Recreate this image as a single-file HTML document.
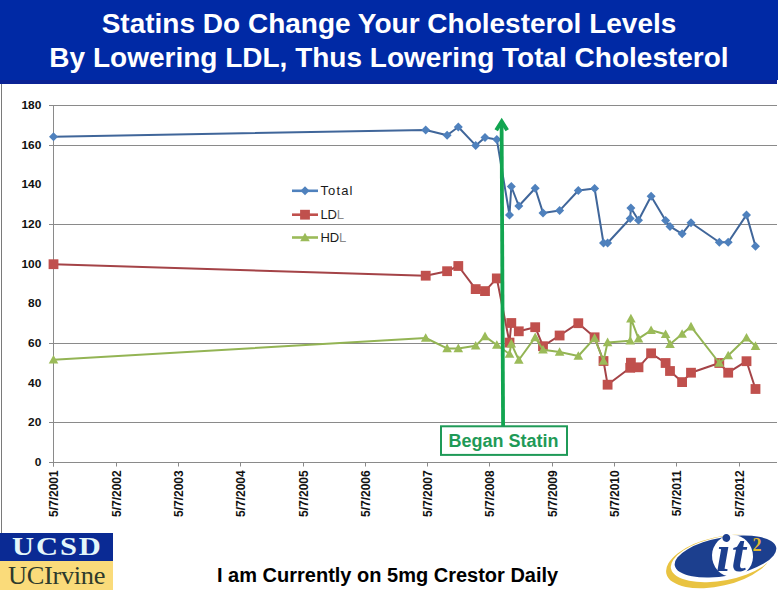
<!DOCTYPE html>
<html><head><meta charset="utf-8"><style>
*{margin:0;padding:0;box-sizing:border-box}
html,body{width:778px;height:590px;overflow:hidden;background:#fff}
body{position:relative;font-family:"Liberation Sans",sans-serif}
#hdr{position:absolute;left:0;top:0;width:778px;height:84px;background:linear-gradient(#0029A5 0,#0029A5 80px,#0A2294 80px,#0A2294 84px)}
#notch{position:absolute;left:777px;top:80px;width:1px;height:5px;background:#fff}
#hdr div{position:absolute;left:0;width:778px;text-align:center;color:#fff;font-weight:bold;font-size:28px;white-space:nowrap}
#frame{position:absolute;left:1px;top:84px;width:1px;height:449px;background:#7a7a7a}
svg{position:absolute;left:0;top:0}
.yl{font:bold 10px "Liberation Sans",sans-serif;fill:#111}
.xl{font:bold 12px "Liberation Sans",sans-serif;fill:#111}
.lg{font:13px "Liberation Sans",sans-serif;fill:#1a1a1a}
.bs{font:bold 18px "Liberation Sans",sans-serif;fill:#1F9A57}
#ucsd{position:absolute;left:0;top:533px;width:113px;height:28px;background:#0A2A94;overflow:hidden}
#ucsd span{position:absolute;left:12px;top:-1px;font:bold 25px "Liberation Serif",serif;color:#e4f6fa;transform:scaleX(1.22);transform-origin:0 0;letter-spacing:1.6px;line-height:30px}
#uci{position:absolute;left:0;top:561px;width:113px;height:29px;background:#FADB7A;overflow:hidden}
#uci span{position:absolute;left:7.5px;top:0px;font:25px "Liberation Serif",serif;color:#2E3A2C;letter-spacing:-0.3px;transform:scaleX(1.055);transform-origin:0 0;line-height:30px}
#bot{position:absolute;left:217px;top:564px;font:bold 20px "Liberation Sans",sans-serif;color:#000;white-space:nowrap}
</style></head><body>
<div id="hdr"><div style="top:7.5px">Statins Do Change Your Cholesterol Levels</div><div style="top:41.5px">By Lowering LDL, Thus Lowering Total Cholesterol</div></div>
<div id="frame"></div><div id="notch"></div>
<svg width="778" height="590" viewBox="0 0 778 590">
<line x1="49" y1="105.5" x2="777" y2="105.5" stroke="#8a8a8a" stroke-width="1"/>
<line x1="49" y1="145.5" x2="777" y2="145.5" stroke="#8a8a8a" stroke-width="1"/>
<line x1="49" y1="224.5" x2="777" y2="224.5" stroke="#8a8a8a" stroke-width="1"/>
<line x1="49" y1="343.5" x2="777" y2="343.5" stroke="#8a8a8a" stroke-width="1"/>
<line x1="49" y1="422.5" x2="777" y2="422.5" stroke="#8a8a8a" stroke-width="1"/>
<line x1="53.5" y1="105" x2="53.5" y2="466.5" stroke="#8a8a8a" stroke-width="1"/>
<line x1="49" y1="462.5" x2="777" y2="462.5" stroke="#8a8a8a" stroke-width="1"/>
<line x1="53.5" y1="462.5" x2="53.5" y2="466.5" stroke="#8a8a8a" stroke-width="1"/>
<line x1="116.5" y1="462.5" x2="116.5" y2="466.5" stroke="#8a8a8a" stroke-width="1"/>
<line x1="178.5" y1="462.5" x2="178.5" y2="466.5" stroke="#8a8a8a" stroke-width="1"/>
<line x1="240.5" y1="462.5" x2="240.5" y2="466.5" stroke="#8a8a8a" stroke-width="1"/>
<line x1="303.5" y1="462.5" x2="303.5" y2="466.5" stroke="#8a8a8a" stroke-width="1"/>
<line x1="365.5" y1="462.5" x2="365.5" y2="466.5" stroke="#8a8a8a" stroke-width="1"/>
<line x1="427.5" y1="462.5" x2="427.5" y2="466.5" stroke="#8a8a8a" stroke-width="1"/>
<line x1="489.5" y1="462.5" x2="489.5" y2="466.5" stroke="#8a8a8a" stroke-width="1"/>
<line x1="552.5" y1="462.5" x2="552.5" y2="466.5" stroke="#8a8a8a" stroke-width="1"/>
<line x1="614.5" y1="462.5" x2="614.5" y2="466.5" stroke="#8a8a8a" stroke-width="1"/>
<line x1="676.5" y1="462.5" x2="676.5" y2="466.5" stroke="#8a8a8a" stroke-width="1"/>
<line x1="739.5" y1="462.5" x2="739.5" y2="466.5" stroke="#8a8a8a" stroke-width="1"/>
<text transform="translate(41.3,466.0) scale(1.19,1)" text-anchor="end" class="yl">0</text>
<text transform="translate(41.3,426.3) scale(1.19,1)" text-anchor="end" class="yl">20</text>
<text transform="translate(41.3,386.7) scale(1.19,1)" text-anchor="end" class="yl">40</text>
<text transform="translate(41.3,347.0) scale(1.19,1)" text-anchor="end" class="yl">60</text>
<text transform="translate(41.3,307.3) scale(1.19,1)" text-anchor="end" class="yl">80</text>
<text transform="translate(41.3,267.7) scale(1.19,1)" text-anchor="end" class="yl">100</text>
<text transform="translate(41.3,228.0) scale(1.19,1)" text-anchor="end" class="yl">120</text>
<text transform="translate(41.3,188.3) scale(1.19,1)" text-anchor="end" class="yl">140</text>
<text transform="translate(41.3,148.7) scale(1.19,1)" text-anchor="end" class="yl">160</text>
<text transform="translate(41.3,109.0) scale(1.19,1)" text-anchor="end" class="yl">180</text>
<text transform="translate(58.3,470.3) rotate(-90)" text-anchor="end" class="xl">5/7/2001</text>
<text transform="translate(120.6,470.3) rotate(-90)" text-anchor="end" class="xl">5/7/2002</text>
<text transform="translate(182.9,470.3) rotate(-90)" text-anchor="end" class="xl">5/7/2003</text>
<text transform="translate(245.2,470.3) rotate(-90)" text-anchor="end" class="xl">5/7/2004</text>
<text transform="translate(307.5,470.3) rotate(-90)" text-anchor="end" class="xl">5/7/2005</text>
<text transform="translate(369.8,470.3) rotate(-90)" text-anchor="end" class="xl">5/7/2006</text>
<text transform="translate(432.1,470.3) rotate(-90)" text-anchor="end" class="xl">5/7/2007</text>
<text transform="translate(494.4,470.3) rotate(-90)" text-anchor="end" class="xl">5/7/2008</text>
<text transform="translate(556.7,470.3) rotate(-90)" text-anchor="end" class="xl">5/7/2009</text>
<text transform="translate(619.0,470.3) rotate(-90)" text-anchor="end" class="xl">5/7/2010</text>
<text transform="translate(681.3,470.3) rotate(-90)" text-anchor="end" class="xl">5/7/2011</text>
<text transform="translate(743.6,470.3) rotate(-90)" text-anchor="end" class="xl">5/7/2012</text>
<polyline points="53.5,136.7 425.7,130.0 447.1,135.3 458.3,127.0 475.7,145.4 485.0,137.4 496.8,139.4 509.5,215.0 511.3,186.5 518.8,206.0 535.2,188.2 543.0,212.9 559.6,210.6 578.3,190.5 594.6,188.5 603.5,243.0 607.6,243.0 630.2,218.5 630.9,208.0 638.5,220.2 651.1,196.3 665.6,220.5 670.0,226.4 682.1,233.8 691.0,222.7 719.3,242.3 728.2,242.3 746.5,214.9 755.5,246.2" fill="none" stroke="#40669A" stroke-width="2" stroke-linejoin="round"/>
<g fill="#4F81BD"><path d="M53.5 132.2L58.0 136.7L53.5 141.2L49.0 136.7Z"/><path d="M425.7 125.5L430.2 130.0L425.7 134.5L421.2 130.0Z"/><path d="M447.1 130.8L451.6 135.3L447.1 139.8L442.6 135.3Z"/><path d="M458.3 122.5L462.8 127.0L458.3 131.5L453.8 127.0Z"/><path d="M475.7 140.9L480.2 145.4L475.7 149.9L471.2 145.4Z"/><path d="M485.0 132.9L489.5 137.4L485.0 141.9L480.5 137.4Z"/><path d="M496.8 134.9L501.3 139.4L496.8 143.9L492.3 139.4Z"/><path d="M509.5 210.5L514.0 215.0L509.5 219.5L505.0 215.0Z"/><path d="M511.3 182.0L515.8 186.5L511.3 191.0L506.8 186.5Z"/><path d="M518.8 201.5L523.3 206.0L518.8 210.5L514.3 206.0Z"/><path d="M535.2 183.7L539.7 188.2L535.2 192.7L530.7 188.2Z"/><path d="M543.0 208.4L547.5 212.9L543.0 217.4L538.5 212.9Z"/><path d="M559.6 206.1L564.1 210.6L559.6 215.1L555.1 210.6Z"/><path d="M578.3 186.0L582.8 190.5L578.3 195.0L573.8 190.5Z"/><path d="M594.6 184.0L599.1 188.5L594.6 193.0L590.1 188.5Z"/><path d="M603.5 238.5L608.0 243.0L603.5 247.5L599.0 243.0Z"/><path d="M607.6 238.5L612.1 243.0L607.6 247.5L603.1 243.0Z"/><path d="M630.2 214.0L634.7 218.5L630.2 223.0L625.7 218.5Z"/><path d="M630.9 203.5L635.4 208.0L630.9 212.5L626.4 208.0Z"/><path d="M638.5 215.7L643.0 220.2L638.5 224.7L634.0 220.2Z"/><path d="M651.1 191.8L655.6 196.3L651.1 200.8L646.6 196.3Z"/><path d="M665.6 216.0L670.1 220.5L665.6 225.0L661.1 220.5Z"/><path d="M670.0 221.9L674.5 226.4L670.0 230.9L665.5 226.4Z"/><path d="M682.1 229.3L686.6 233.8L682.1 238.3L677.6 233.8Z"/><path d="M691.0 218.2L695.5 222.7L691.0 227.2L686.5 222.7Z"/><path d="M719.3 237.8L723.8 242.3L719.3 246.8L714.8 242.3Z"/><path d="M728.2 237.8L732.7 242.3L728.2 246.8L723.7 242.3Z"/><path d="M746.5 210.4L751.0 214.9L746.5 219.4L742.0 214.9Z"/><path d="M755.5 241.7L760.0 246.2L755.5 250.7L751.0 246.2Z"/></g>
<polyline points="53.5,264.2 425.7,275.7 447.1,271.2 458.3,266.0 475.7,289.1 485.0,291.1 496.8,278.4 509.5,342.6 511.3,323.0 518.8,331.3 535.2,327.2 543.0,346.2 559.6,335.5 578.3,323.2 594.6,337.3 603.5,361.0 607.6,384.7 630.2,367.8 630.9,362.7 638.5,367.3 651.1,353.3 665.6,363.0 670.0,371.0 682.1,382.1 691.0,372.7 719.3,363.0 728.2,372.7 746.5,361.2 755.5,389.0" fill="none" stroke="#A44347" stroke-width="2" stroke-linejoin="round"/>
<g fill="#C0504D"><rect x="48.6" y="259.3" width="9.8" height="9.8"/><rect x="420.8" y="270.8" width="9.8" height="9.8"/><rect x="442.2" y="266.3" width="9.8" height="9.8"/><rect x="453.4" y="261.1" width="9.8" height="9.8"/><rect x="470.8" y="284.2" width="9.8" height="9.8"/><rect x="480.1" y="286.2" width="9.8" height="9.8"/><rect x="491.9" y="273.5" width="9.8" height="9.8"/><rect x="504.6" y="337.7" width="9.8" height="9.8"/><rect x="506.4" y="318.1" width="9.8" height="9.8"/><rect x="513.9" y="326.4" width="9.8" height="9.8"/><rect x="530.3" y="322.3" width="9.8" height="9.8"/><rect x="538.1" y="341.3" width="9.8" height="9.8"/><rect x="554.7" y="330.6" width="9.8" height="9.8"/><rect x="573.4" y="318.3" width="9.8" height="9.8"/><rect x="589.7" y="332.4" width="9.8" height="9.8"/><rect x="598.6" y="356.1" width="9.8" height="9.8"/><rect x="602.7" y="379.8" width="9.8" height="9.8"/><rect x="625.3" y="362.9" width="9.8" height="9.8"/><rect x="626.0" y="357.8" width="9.8" height="9.8"/><rect x="633.6" y="362.4" width="9.8" height="9.8"/><rect x="646.2" y="348.4" width="9.8" height="9.8"/><rect x="660.7" y="358.1" width="9.8" height="9.8"/><rect x="665.1" y="366.1" width="9.8" height="9.8"/><rect x="677.2" y="377.2" width="9.8" height="9.8"/><rect x="686.1" y="367.8" width="9.8" height="9.8"/><rect x="714.4" y="358.1" width="9.8" height="9.8"/><rect x="723.3" y="367.8" width="9.8" height="9.8"/><rect x="741.6" y="356.3" width="9.8" height="9.8"/><rect x="750.6" y="384.1" width="9.8" height="9.8"/></g>
<polyline points="53.5,359.7 425.7,338.0 447.1,348.4 458.3,348.4 475.7,345.7 485.0,336.4 496.8,345.0 509.5,354.0 511.3,343.6 518.8,360.0 535.2,337.4 543.0,349.7 559.6,352.0 578.3,356.0 594.6,338.1 603.5,361.0 607.6,342.4 630.2,340.7 630.9,318.6 638.5,338.6 651.1,330.3 665.6,334.2 670.0,344.3 682.1,334.0 691.0,326.6 719.3,363.0 728.2,355.5 746.5,337.8 755.5,346.1" fill="none" stroke="#93B454" stroke-width="2" stroke-linejoin="round"/>
<g fill="#9BBB59"><path d="M53.5 354.9L58.3 363.5L48.7 363.5Z"/><path d="M425.7 333.2L430.5 341.8L420.9 341.8Z"/><path d="M447.1 343.6L451.9 352.2L442.3 352.2Z"/><path d="M458.3 343.6L463.1 352.2L453.5 352.2Z"/><path d="M475.7 340.9L480.5 349.5L470.9 349.5Z"/><path d="M485.0 331.6L489.8 340.2L480.2 340.2Z"/><path d="M496.8 340.2L501.6 348.8L492.0 348.8Z"/><path d="M509.5 349.2L514.3 357.8L504.7 357.8Z"/><path d="M511.3 338.8L516.1 347.4L506.5 347.4Z"/><path d="M518.8 355.2L523.6 363.8L514.0 363.8Z"/><path d="M535.2 332.6L540.0 341.2L530.4 341.2Z"/><path d="M543.0 344.9L547.8 353.5L538.2 353.5Z"/><path d="M559.6 347.2L564.4 355.8L554.8 355.8Z"/><path d="M578.3 351.2L583.1 359.8L573.5 359.8Z"/><path d="M594.6 333.3L599.4 341.9L589.8 341.9Z"/><path d="M603.5 356.2L608.3 364.8L598.7 364.8Z"/><path d="M607.6 337.6L612.4 346.2L602.8 346.2Z"/><path d="M630.2 335.9L635.0 344.5L625.4 344.5Z"/><path d="M630.9 313.8L635.7 322.4L626.1 322.4Z"/><path d="M638.5 333.8L643.3 342.4L633.7 342.4Z"/><path d="M651.1 325.5L655.9 334.1L646.3 334.1Z"/><path d="M665.6 329.4L670.4 338.0L660.8 338.0Z"/><path d="M670.0 339.5L674.8 348.1L665.2 348.1Z"/><path d="M682.1 329.2L686.9 337.8L677.3 337.8Z"/><path d="M691.0 321.8L695.8 330.4L686.2 330.4Z"/><path d="M719.3 358.2L724.1 366.8L714.5 366.8Z"/><path d="M728.2 350.7L733.0 359.3L723.4 359.3Z"/><path d="M746.5 333.0L751.3 341.6L741.7 341.6Z"/><path d="M755.5 341.3L760.3 349.9L750.7 349.9Z"/></g>
<line x1="292" y1="190.8" x2="318" y2="190.8" stroke="#4F81BD" stroke-width="2.6"/>
<g fill="#4F81BD"><path d="M305.0 186.3L309.5 190.8L305.0 195.3L300.5 190.8Z"/></g>
<text x="320.5" y="195.4" class="lg" style="letter-spacing:1.1px">Total</text>
<line x1="292" y1="214.7" x2="318" y2="214.7" stroke="#C0504D" stroke-width="2.6"/>
<g fill="#C0504D"><rect x="300.1" y="209.8" width="9.8" height="9.8"/></g>
<text x="320.5" y="219.3" class="lg" style="letter-spacing:-0.2px">LD<tspan fill="#8a8a8a">L</tspan></text>
<line x1="292" y1="237.5" x2="318" y2="237.5" stroke="#9BBB59" stroke-width="2.6"/>
<g fill="#9BBB59"><path d="M305.0 232.7L309.8 241.3L300.2 241.3Z"/></g>
<text x="320.5" y="242.1" class="lg" style="letter-spacing:-0.2px">HD<tspan fill="#8a8a8a">L</tspan></text>
<line x1="501.6" y1="124" x2="503.1" y2="426" stroke="#12A550" stroke-width="3.8"/>
<polyline points="496.2,130.2 501.7,121.5 507.2,130.2" fill="none" stroke="#12A550" stroke-width="4" stroke-linejoin="miter" stroke-miterlimit="10"/>
<rect x="441" y="426.3" width="126" height="28.6" fill="#fff" stroke="#1F9A57" stroke-width="2"/>
<text x="503.5" y="446.6" text-anchor="middle" class="bs">Began Statin</text>
</svg>
<div id="ucsd"><span>UCSD</span></div>
<div id="uci"><span>UCIrvine</span></div>
<div id="bot">I am Currently on 5mg Crestor Daily</div>
<svg width="778" height="590" viewBox="0 0 778 590" style="pointer-events:none">
<g id="it2">
<ellipse cx="719" cy="561.5" rx="54" ry="24.5" transform="rotate(-13 719 561.5)" fill="#E9C341"/>
<ellipse cx="723" cy="558.5" rx="53" ry="21.8" transform="rotate(-11 723 558.5)" fill="#fff"/>
<ellipse cx="725.5" cy="556.5" rx="51.5" ry="19.3" transform="rotate(-10 725.5 556.5)" fill="#1C3F8E"/>
<ellipse cx="732.5" cy="556" rx="20.5" ry="21" transform="rotate(-10 732.5 556)" fill="#fff"/>
<text x="716" y="571" font-family="Liberation Serif" font-style="italic" font-weight="bold" font-size="52" letter-spacing="1" fill="#1C3F8E">it</text>
<text x="752.5" y="550.5" font-family="Liberation Serif" font-weight="bold" font-size="18" fill="#E2B92F">2</text>
</g>
</svg>
</body></html>
